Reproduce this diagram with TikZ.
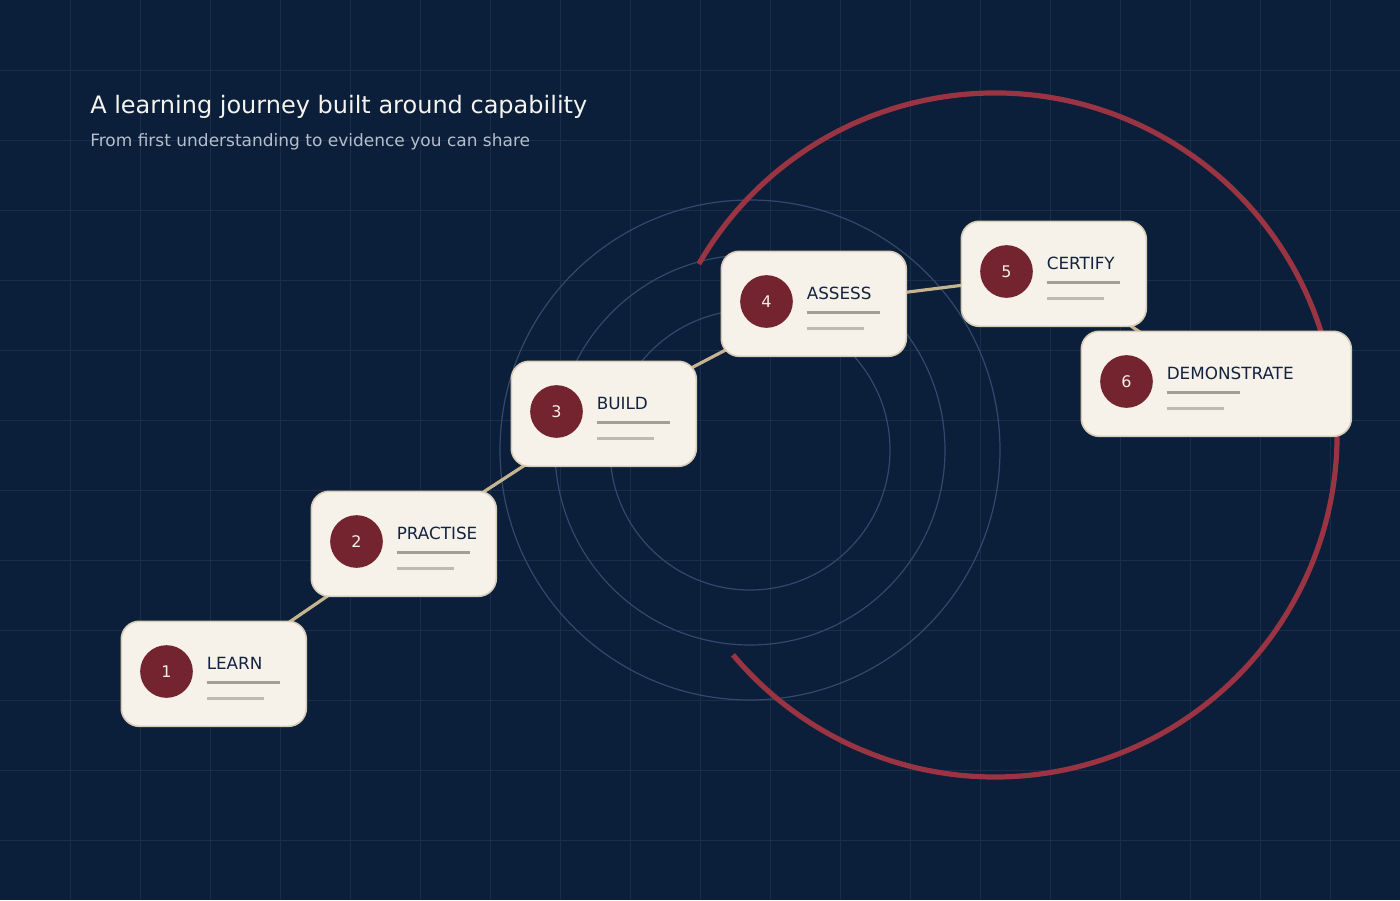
\documentclass[tikz,border=0pt]{standalone}
\usepackage{fontspec}
\setmainfont{DejaVu Sans}
\usetikzlibrary{calc}
\pgfdeclarelayer{back}
\pgfdeclarelayer{mid}
\pgfsetlayers{back,mid,main}
\definecolor{bgc}{HTML}{0B1F3A}
\definecolor{gridc}{HTML}{1A2E4A}
\definecolor{ringc}{HTML}{33496A}
\definecolor{arcc}{HTML}{9A3442}
\definecolor{dotc}{HTML}{74242F}
\definecolor{cardfill}{HTML}{F6F2EA}
\definecolor{cardline}{HTML}{D8CDB8}
\definecolor{connc}{HTML}{C5B48E}
\definecolor{barone}{HTML}{A39F97}
\definecolor{bartwo}{HTML}{BFBAB1}
\definecolor{labelc}{HTML}{13233F}
\definecolor{numc}{HTML}{F3EEE6}
\definecolor{titlec}{HTML}{F5F3EE}
\definecolor{subc}{HTML}{B5BECB}
\tikzset{
  cardbox/.style={draw=cardline, fill=cardfill, line width=1.2pt, rounded corners=13.5pt,
    minimum height=78.75pt, inner sep=0pt, anchor=north west},
  numdot/.style={circle, fill=dotc, minimum size=39.5pt, inner sep=0pt, text=numc,
    font=\fontsize{12}{14}\selectfont},
  steplabel/.style={anchor=base west, inner sep=0pt, text=labelc,
    font=\fontsize{12.6}{15}\selectfont},
  barA/.style={draw=barone, line width=2.25pt},
  barB/.style={draw=bartwo, line width=2.25pt},
  conn/.style={draw=connc, line width=2.4pt},
  ring/.style={draw=ringc, line width=0.9pt},
}
\newcommand\mkcard[6]{%
  \node[cardbox, minimum width=#4*0.75pt] (#1) at (#2,#3) {};
  \node[numdot] (#1n) at ($(#1.north west)+(46,51)$) {#5};
  \node[steplabel] (#1t) at ($(#1.north west)+(86,49)$) {#6};
  \coordinate (#1a) at ($(#1.north west)+(86,62.3)$);
  \coordinate (#1b) at ($(#1.north west)+(159,62.3)$);
  \coordinate (#1c) at ($(#1.north west)+(86,77.5)$);
  \coordinate (#1d) at ($(#1.north west)+(143,77.5)$);
  \draw[barA] (#1a) -- (#1b);
  \draw[barB] (#1c) -- (#1d);
}
\begin{document}
\begin{tikzpicture}[x=0.75pt,y=-0.75pt]
\useasboundingbox (0,0) rectangle (1400,900);
\begin{pgfonlayer}{back}
  \fill[bgc] (0,0) rectangle (1400,900);
  \foreach \i in {70,140,...,1330} \draw[gridc, line width=0.75pt] (\i,0) -- (\i,900);
  \foreach \j in {70,140,...,840} \draw[gridc, line width=0.75pt] (0,\j) -- (1400,\j);
  \coordinate (ctr) at (750,450);
  \draw[ring] (ctr) circle[radius=250];
  \draw[ring] (ctr) circle[radius=195];
  \draw[ring] (ctr) circle[radius=140];
  \coordinate (actr) at (995,435);
  \draw[arcc, line width=3.9pt] ($(actr)+(-150:342)$) arc[start angle=-150, end angle=140, radius=342];
\end{pgfonlayer}

\node[anchor=base west, inner sep=0pt, text=titlec, font=\fontsize{18}{22}\selectfont] (title) at (90,113) {A learning journey built around capability};
\node[anchor=base west, inner sep=0pt, text=subc, font=\fontsize{12.75}{15}\selectfont] (sub) at (90,146) {From first understanding to evidence you can share};

\mkcard{c1}{120.5}{620.5}{185}{1}{LEARN}
\mkcard{c2}{310.5}{490.5}{185}{2}{PRACTISE}
\mkcard{c3}{510.5}{360.5}{185}{3}{BUILD}
\mkcard{c4}{720.5}{250.5}{185}{4}{ASSESS}
\mkcard{c5}{960.5}{220.5}{185}{5}{CERTIFY}
\mkcard{c6}{1080.5}{330.5}{270}{6}{DEMONSTRATE}

\begin{pgfonlayer}{mid}
  \draw[conn] (c1.center) -- (c2.center);
  \draw[conn] (c2.center) -- (c3.center);
  \draw[conn] (c3.center) -- (c4.center);
  \draw[conn] (c4.center) -- (c5.center);
  \draw[conn] (c5.center) -- (c6.center);
\end{pgfonlayer}
\end{tikzpicture}
\end{document}
